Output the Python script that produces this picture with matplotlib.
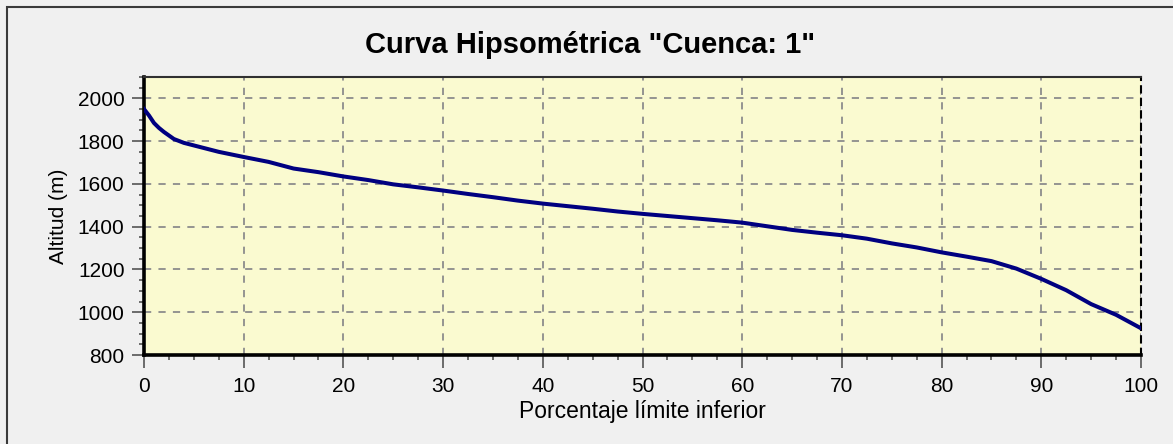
"""
Curva hipsométrica de la cuenca 1 (altitud vs porcentaje de área por encima).
"""

import matplotlib
matplotlib.use("Agg")
import matplotlib.pyplot as plt
from matplotlib.patches import Rectangle
from matplotlib.ticker import MultipleLocator


TITLE = 'Curva Hipsométrica "Cuenca: 1"'
X_LABEL = "Porcentaje límite inferior"
Y_LABEL = "Altitud (m)"

# valores
porcentaje = [0, 0.5, 1, 1.5, 2, 3, 4, 5, 7.5, 10, 12.5, 15, 17.5, 20, 22.5,
              25, 27.5, 30, 32.5, 35, 37.5, 40, 42.5, 45, 47.5, 50, 52.5, 55,
              57.5, 60, 62.5, 65, 67.5, 70, 72.5, 75, 77.5, 80, 82.5, 85,
              87.5, 90, 92.5, 95, 97.5, 100]
altitud = [1950, 1920, 1885, 1862, 1843, 1810, 1792, 1780, 1750, 1726, 1703,
           1672, 1655, 1635, 1618, 1598, 1584, 1569, 1553, 1538, 1522, 1508,
           1496, 1484, 1471, 1460, 1450, 1440, 1430, 1419, 1402, 1385, 1372,
           1360, 1344, 1322, 1303, 1280, 1260, 1239, 1204, 1156, 1103, 1038,
           988, 925]

x_ticks = [0, 10, 20, 30, 40, 50, 60, 70, 80, 90, 100]
y_ticks = [800, 1000, 1200, 1400, 1600, 1800, 2000]

W, H = 1173, 444

plt.rcParams["font.family"] = ["Liberation Sans", "DejaVu Sans"]

fig = plt.figure(figsize=(W / 100, H / 100), dpi=100, facecolor="#f0f0f0")

# marco exterior de la ventana
fig.patches.append(Rectangle((7 / W, -0.1), 1.2, 1 - 7 / H + 0.1,
                             transform=fig.transFigure, fill=False,
                             edgecolor="#3a3a3a", linewidth=1.5))

ax = fig.add_axes([144 / W, 1 - 355 / H, (1141 - 144) / W, (355 - 77) / H])
ax.set_facecolor("#fafad0")

ax.plot(porcentaje, altitud, color="#000080", linewidth=2.9, zorder=3)

ax.set_xlim(0, 100)
ax.set_ylim(800, 2100)
ax.set_xticks(x_ticks)
ax.set_yticks(y_ticks)
ax.xaxis.set_minor_locator(MultipleLocator(2.5))
ax.yaxis.set_minor_locator(MultipleLocator(50))

ax.grid(True, which="major", color="#8c8c8c", linestyle=(0, (4, 4)), linewidth=1.3)

ax.tick_params(which="major", direction="out", length=9, width=1.2,
               color="#555555", labelsize=15, pad=5)
ax.tick_params(axis="x", which="major", pad=7)
ax.tick_params(which="minor", direction="out", length=3.5, width=1.2,
               color="#555555")

for s in ["left", "bottom"]:
    ax.spines[s].set_linewidth(2.6)
    ax.spines[s].set_color("black")
ax.spines["top"].set_linewidth(1.5)
ax.spines["top"].set_color("#303030")
ax.spines["right"].set_linewidth(1.5)
ax.spines["right"].set_color("black")
ax.spines["right"].set_linestyle((0, (3, 3)))

ax.set_xlabel(X_LABEL, fontsize=16.5, labelpad=3)
ax.set_ylabel(Y_LABEL, fontsize=15, labelpad=7)
fig.text(590 / W, 1 - 45 / H, TITLE, fontsize=21, fontweight="bold",
         ha="center", va="center")

fig.savefig("out.png", dpi=100, facecolor=fig.get_facecolor())
